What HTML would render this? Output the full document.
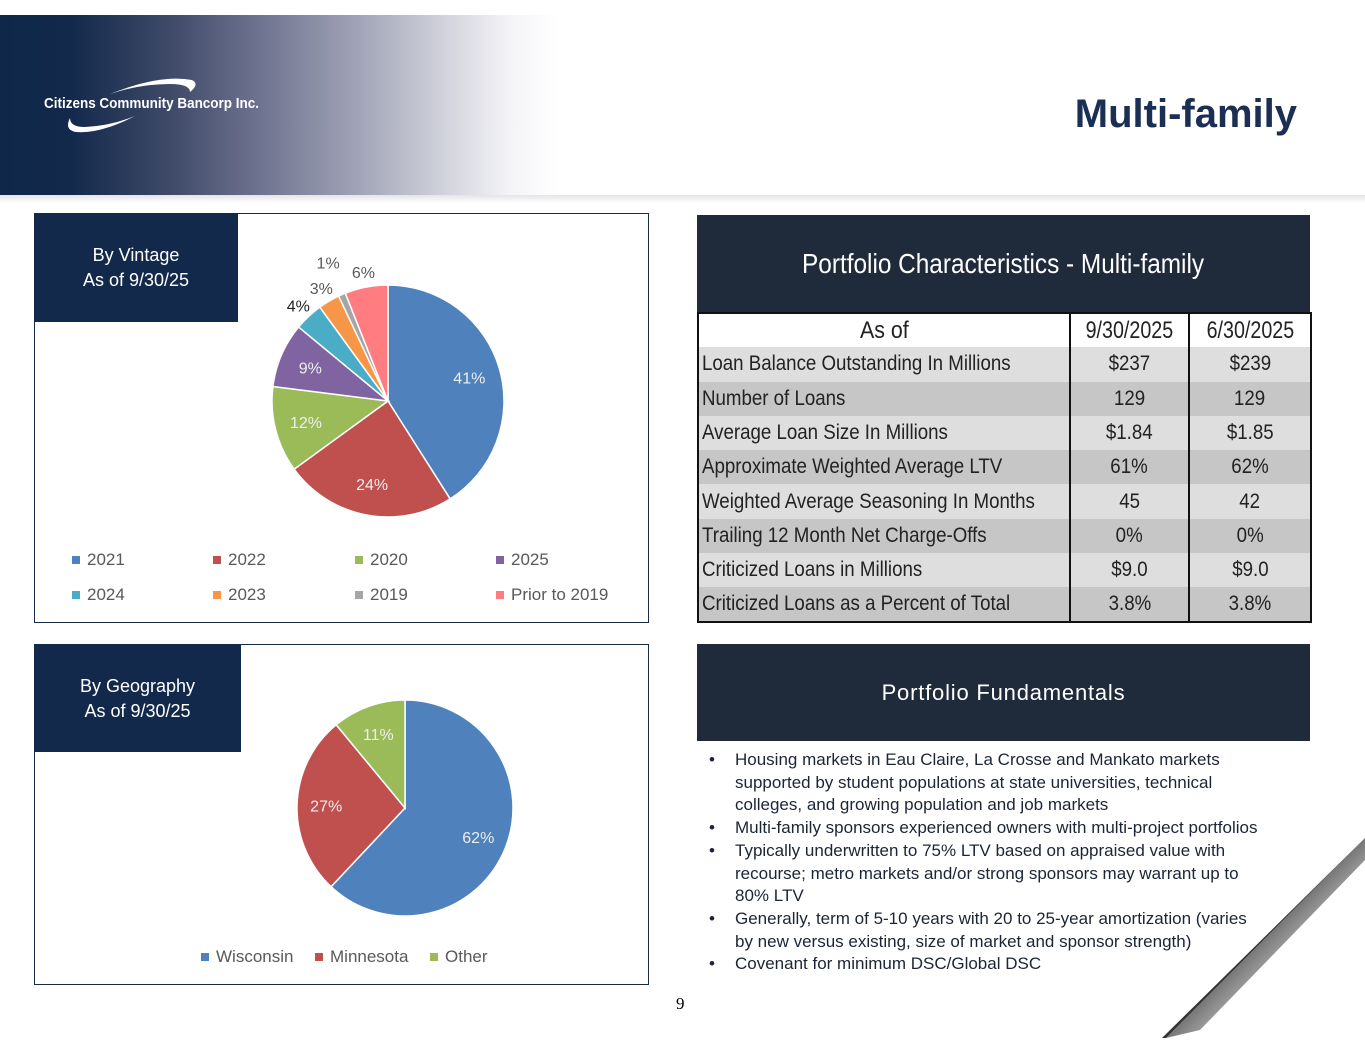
<!DOCTYPE html>
<html><head><meta charset="utf-8">
<style>
*{margin:0;padding:0;box-sizing:border-box}
body{width:1365px;height:1055px;position:relative;background:#fff;font-family:"Liberation Sans",sans-serif;overflow:hidden}
.abs{position:absolute}
.hdr{left:0;top:15px;width:1365px;height:180px;background:linear-gradient(90deg,#0f2748 0px,#12294b 70px,#3f4a68 170px,#6e738f 260px,#a2a5b8 360px,#d4d5de 450px,#f4f4f7 510px,#fff 560px)}
.hdrshadow{left:0;top:195px;width:1365px;height:8px;background:linear-gradient(#e4e4e8,#fff)}
.title{right:68px;top:92px;font-size:40px;font-weight:bold;color:#1b2f55}
.panel{border:1.5px solid #1a2b48;background:#fff}
.tag{background:#13294b;color:#fff;font-size:18px;text-align:center;line-height:25px;padding-top:30px}
.dark{background:#1f2a3a;color:#fff;text-align:center}
table{border-collapse:collapse;table-layout:fixed}
td{font-size:21px;height:34.3px;padding:0 3px;color:#222;white-space:nowrap;overflow:hidden}
td span{display:inline-block;transform:scaleX(.89);transform-origin:left center}
td.v{text-align:center;border-left:2px solid #111}
td.v span{transform-origin:center}
tr.l td{background:#dedede}
tr.d td{background:#c6c6c6}
ul{list-style:none}
li{position:relative;padding-left:38px;font-size:17px;line-height:22.7px;color:#1c2535}
li:before{content:"•";position:absolute;left:12px}
</style></head><body>
<div class="abs hdr"></div>
<div class="abs hdrshadow"></div>
<svg class="abs" style="left:40px;top:72px" width="240" height="62">
<path d="M70,22 Q120,2 152,8 Q160,12 150,20 Q150,12 130,12 Q100,12 70,22Z" fill="#fff"/>
<path d="M95,44 Q60,62 36,60 Q24,58 30,46 Q30,55 45,55 Q70,54 95,44Z" fill="#fff"/>
<text x="4" y="36" fill="#fff" font-size="14.5" font-weight="bold" textLength="215" lengthAdjust="spacingAndGlyphs">Citizens Community Bancorp Inc.</text>
</svg>
<div class="abs title">Multi-family</div>

<div class="abs panel" style="left:34px;top:213px;width:615px;height:410px"></div>
<div class="abs tag" style="left:34px;top:213px;width:204px;height:109px">By Vintage<br>As of 9/30/25</div>
<div class="abs panel" style="left:34px;top:644px;width:615px;height:341px"></div>
<div class="abs tag" style="left:34px;top:644px;width:207px;height:108px">By Geography<br>As of 9/30/25</div>

<svg id="charts" class="abs" style="left:0;top:0" width="700" height="1000"></svg>

<div class="abs dark" style="left:697px;top:215px;width:613px;height:97px;font-size:28px;line-height:97px"><span style="display:inline-block;transform:scaleX(.87)">Portfolio Characteristics - Multi-family</span></div>
<table class="abs" style="left:697px;top:312px;width:613px;border:2px solid #111">
<colgroup><col style="width:372px"><col style="width:119px"><col style="width:122px"></colgroup>
<tr><td style="text-align:center;background:#fff;font-size:24px"><span style="transform-origin:center">As of</span></td><td class="v" style="background:#fff;font-size:24px"><span style="transform:scaleX(.82)">9/30/2025</span></td><td class="v" style="background:#fff;font-size:24px"><span style="transform:scaleX(.82)">6/30/2025</span></td></tr>
<tr class="l"><td><span>Loan Balance Outstanding In Millions</span></td><td class="v"><span>$237</span></td><td class="v"><span>$239</span></td></tr>
<tr class="d"><td><span>Number of Loans</span></td><td class="v"><span>129</span></td><td class="v"><span>129</span></td></tr>
<tr class="l"><td><span>Average Loan Size In Millions</span></td><td class="v"><span>$1.84</span></td><td class="v"><span>$1.85</span></td></tr>
<tr class="d"><td><span>Approximate Weighted Average LTV</span></td><td class="v"><span>61%</span></td><td class="v"><span>62%</span></td></tr>
<tr class="l"><td><span>Weighted Average Seasoning In Months</span></td><td class="v"><span>45</span></td><td class="v"><span>42</span></td></tr>
<tr class="d"><td><span>Trailing 12 Month Net Charge-Offs</span></td><td class="v"><span>0%</span></td><td class="v"><span>0%</span></td></tr>
<tr class="l"><td><span>Criticized Loans in Millions</span></td><td class="v"><span>$9.0</span></td><td class="v"><span>$9.0</span></td></tr>
<tr class="d"><td><span>Criticized Loans as a Percent of Total</span></td><td class="v"><span>3.8%</span></td><td class="v"><span>3.8%</span></td></tr>
</table>

<div class="abs dark" style="left:697px;top:644px;width:613px;height:97px;font-size:22px;line-height:97px;letter-spacing:0.8px">Portfolio Fundamentals</div>
<ul class="abs" style="left:697px;top:749px;width:570px">
<li>Housing markets in Eau Claire, La Crosse and Mankato markets supported by student populations at state universities, technical colleges, and growing population and job markets</li>
<li style="white-space:nowrap">Multi-family sponsors experienced owners with multi-project portfolios</li>
<li>Typically underwritten to 75% LTV based on appraised value with recourse; metro markets and/or strong sponsors may warrant up to 80% LTV</li>
<li>Generally, term of 5-10 years with 20 to 25-year amortization (varies by new versus existing, size of market and sponsor strength)</li>
<li>Covenant for minimum DSC/Global DSC</li>
</ul>
<div class="abs" style="left:676px;top:994px;font-family:'Liberation Serif',serif;font-size:17px">9</div>

<svg class="abs" style="left:1100px;top:780px" width="265" height="275">
<defs><linearGradient id="cg" x1="0" y1="0" x2="1" y2="1"><stop offset="0" stop-color="#222"/><stop offset="0.5" stop-color="#777"/><stop offset="1" stop-color="#fff" stop-opacity="0"/></linearGradient></defs>
<polygon points="265,58 265,80 100,250 66,258" fill="url(#cg)"/>
<polygon points="265,58 66,258 62,258" fill="#333"/>
</svg>

<script>
const vintageCats=["2021","2022","2020","2025","2024","2023","2019","Prior to 2019"];
const vintageVals=[41,24,12,9,4,3,1,6];
const vintageColors=["#4f81bd","#c0504d","#9bbb59","#8064a2","#4bacc6","#f79646","#a5a5a5","#ff7c80"];
const geoCats=["Wisconsin","Minnesota","Other"];
const geoVals=[62,27,11];
const geoColors=["#4f81bd","#c0504d","#9bbb59"];
const NS="http://www.w3.org/2000/svg";
const svg=document.getElementById("charts");
function mk(t,a){const e=document.createElementNS(NS,t);for(const k in a)e.setAttribute(k,a[k]);svg.appendChild(e);return e;}
function pie(cx,cy,r,vals,colors,name){
  const tot=vals.reduce((a,b)=>a+b,0);let acc=0;
  vals.forEach((v,i)=>{
    const a0=acc/tot*2*Math.PI,a1=(acc+v)/tot*2*Math.PI;acc+=v;
    const x0=cx+r*Math.sin(a0),y0=cy-r*Math.cos(a0),x1=cx+r*Math.sin(a1),y1=cy-r*Math.cos(a1);
    const p=mk("path",{d:`M${cx},${cy}L${x0},${y0}A${r},${r} 0 ${a1-a0>Math.PI?1:0} 1 ${x1},${y1}Z`,fill:colors[i],stroke:"#fff","stroke-width":1.5});
    
    
    const am=(a0+a1)/2;const small=v/tot<0.08;
    const lr=small?(v/tot<0.02?r*1.3:r*1.13):r*0.73;
    const t=mk("text",{x:cx+lr*Math.sin(am),y:cy-lr*Math.cos(am)+6,"text-anchor":"middle","font-size":16,fill:small?(v==4?"#222":"#595959"):"#eee"});
    t.textContent=v+"%";
    
    
  });
}
function legend(cats,colors,xs,ys,name){
  cats.forEach((c,i)=>{
    const x=xs[i],y=ys[i];
    const s=mk("rect",{x:x,y:y-9,width:8,height:8,fill:colors[i]});
    
    
    const t=mk("text",{x:x+15,y:y,"font-size":17,fill:"#595959"});
    t.textContent=c;
    
    
  });
}
pie(388,401,116,vintageVals,vintageColors,"vintage");
pie(405,808,108,geoVals,geoColors,"geography");
legend(vintageCats,vintageColors,[72,213,355,496,72,213,355,496],[565,565,565,565,600,600,600,600],"vintage");
legend(geoCats,geoColors,[201,315,430],[962,962,962],"geography");
</script>
</body></html>
